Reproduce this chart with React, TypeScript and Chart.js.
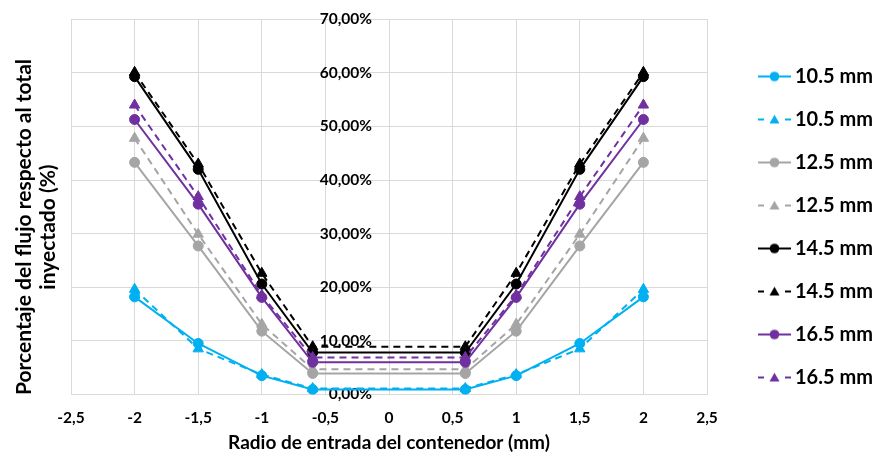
import React, { useEffect, useRef } from 'react';
import { Chart, registerables } from 'chart.js';

Chart.register(...registerables);

// ---- data ----
const xValues = [-2, -1.5, -1, -0.6, 0.6, 1, 1.5, 2];
const xTickLabels = ['-2,5', '-2', '-1,5', '-1', '-0,5', '0', '0,5', '1', '1,5', '2', '2,5'];
const yTickLabels = ['0,00%', '10,00%', '20,00%', '30,00%', '40,00%', '50,00%', '60,00%', '70,00%'];
const seriesLabels = ['10.5 mm', '10.5 mm', '12.5 mm', '12.5 mm', '14.5 mm', '14.5 mm', '16.5 mm', '16.5 mm'];

const s105Solid = [18.2, 9.5, 3.5, 0.9, 0.9, 3.5, 9.5, 18.2];
const s105Dash = [19.6, 8.5, 3.7, 1.1, 1.1, 3.7, 8.5, 19.6];
const s125Solid = [43.3, 27.7, 11.8, 3.9, 3.9, 11.8, 27.7, 43.3];
const s125Dash = [47.8, 29.9, 13.1, 4.7, 4.7, 13.1, 29.9, 47.8];
const s145Solid = [59.3, 42.0, 20.6, 7.8, 7.8, 20.6, 42.0, 59.3];
const s145Dash = [60.1, 43.0, 22.6, 8.9, 8.9, 22.6, 43.0, 60.1];
const s165Solid = [51.3, 35.5, 18.1, 6.0, 6.0, 18.1, 35.5, 51.3];
const s165Dash = [54.0, 36.9, 18.5, 6.9, 6.9, 18.5, 36.9, 54.0];

const seriesValues = [s105Solid, s105Dash, s125Solid, s125Dash, s145Solid, s145Dash, s165Solid, s165Dash];

const xTitle = 'Radio de entrada del contenedor (mm)';
const yTitle = ['Porcentaje del flujo respecto al total', 'inyectado (%)'];

// ---- styles ----
const BLUE = '#00B0F0';
const GRAY = '#A5A5A5';
const BLACK = '#000000';
const PURPLE = '#7030A0';
const seriesColors = [BLUE, BLUE, GRAY, GRAY, BLACK, BLACK, PURPLE, PURPLE];
const seriesDashed = [false, true, false, true, false, true, false, true];
const seriesMarkers = ['circle', 'triangle', 'circle', 'triangle', 'circle', 'triangle', 'circle', 'triangle'];

const FAMILY = 'Lato';
const GRID = '#D9D9D9';
const LEG_FS = 20;
const LEG_PAD = 23;
const LEG_BOX = 55;
const PLOT_RIGHT = 707;
const ICON_END = 791;
const ICON_W = Math.round(2 * (ICON_END - (PLOT_RIGHT + LEG_PAD + LEG_BOX / 2)));

function makeIcon(color: string, dashed: boolean, marker: string) {
  const H = 14;
  const c = document.createElement('canvas');
  c.width = ICON_W;
  c.height = H;
  const g = c.getContext('2d')!;
  const x0 = ICON_W - 33;
  const x1 = ICON_W;
  const cy = H / 2;
  const cx = (x0 + x1) / 2;
  g.strokeStyle = color;
  g.fillStyle = color;
  g.lineWidth = 2;
  const seg = (a: number, b: number) => {
    g.beginPath();
    g.moveTo(a, cy);
    g.lineTo(b, cy);
    g.stroke();
  };
  if (dashed) {
    seg(x0, x0 + 6);
    seg(x1 - 6, x1);
  } else {
    seg(x0, x1);
  }
  g.beginPath();
  if (marker === 'circle') {
    g.arc(cx, cy, 4.8, 0, Math.PI * 2);
  } else {
    g.moveTo(cx, cy - 4.8);
    g.lineTo(cx + 5, cy + 4);
    g.lineTo(cx - 5, cy + 4);
    g.closePath();
  }
  g.fill();
  return c;
}

export default function App() {
  const ref = useRef<HTMLCanvasElement | null>(null);

  useEffect(() => {
    const canvas = ref.current;
    if (!canvas) return;

    const m = document.createElement('canvas').getContext('2d')!;
    m.font = `bold ${LEG_FS}px ${FAMILY}`;
    const textW = Math.max(...seriesLabels.map((l) => m.measureText(l).width));
    const legendW = LEG_PAD + LEG_BOX + LEG_FS / 2 + textW + 10;
    const rightPad = 877 - PLOT_RIGHT - legendW;

    const icons = seriesColors.map((c, i) => makeIcon(c, seriesDashed[i], seriesMarkers[i]));
    const n = seriesValues.length;

    const chart = new Chart(canvas, {
      type: 'line',
      data: {
        datasets: seriesValues.map((vals, i) => ({
          label: seriesLabels[i],
          data: vals.map((v, j) => ({ x: xValues[j], y: v })),
          borderColor: seriesColors[i],
          backgroundColor: seriesColors[i],
          borderWidth: 2,
          borderDash: seriesDashed[i] ? [7, 5] : [],
          pointStyle: seriesMarkers[i] as any,
          pointRadius: seriesMarkers[i] === 'triangle' ? 6 : 5,
          pointBackgroundColor: seriesColors[i],
          pointBorderColor: seriesColors[i],
          pointBorderWidth: 1,
          tension: 0,
          fill: false,
          order: n - 1 - i,
        })),
      },
      options: {
        responsive: false,
        animation: false,
        layout: { padding: { left: 0, top: 0, bottom: 0, right: rightPad } },
        plugins: {
          tooltip: { enabled: false },
          title: { display: false },
          legend: {
            position: 'right',
            align: 'center',
            maxWidth: 400,
            labels: {
              usePointStyle: true,
              pointStyleWidth: LEG_BOX,
              padding: LEG_PAD,
              color: '#000',
              font: { family: FAMILY, size: LEG_FS, weight: 'bold' },
              generateLabels: (ch: any) =>
                ch.data.datasets.map((ds: any, i: number) => ({
                  text: ds.label,
                  fillStyle: seriesColors[i],
                  strokeStyle: seriesColors[i],
                  lineWidth: 0,
                  pointStyle: icons[i],
                  hidden: false,
                  datasetIndex: i,
                  fontColor: '#000',
                })),
            },
          },
        },
        scales: {
          x: {
            type: 'linear',
            position: 'bottom',
            min: -2.5,
            max: 2.5,
            ticks: {
              stepSize: 0.5,
              autoSkip: false,
              maxRotation: 0,
              padding: 14,
              color: '#000',
              font: { family: FAMILY, size: 15.5, weight: 'bold' },
              callback: (_v: any, i: number) => xTickLabels[i],
            },
            grid: { color: GRID, drawTicks: false },
            border: { color: GRID },
            title: {
              display: true,
              text: xTitle,
              color: '#000',
              font: { family: FAMILY, size: 19, weight: 'bold', lineHeight: 1.2 },
              padding: { top: -9.4, bottom: -0.4 },
            },
          },
          y: {
            type: 'linear',
            position: { x: -0.134 } as any,
            min: 0,
            max: 70,
            ticks: {
              stepSize: 10,
              autoSkip: false,
              padding: 10,
              color: '#000',
              font: { family: FAMILY, size: 15.5, weight: 'bold' },
              callback: (_v: any, i: number) => yTickLabels[i],
            },
            grid: { color: GRID, drawTicks: false },
            border: { display: false },
          },
          yTitle: {
            type: 'linear',
            position: 'left',
            fullSize: true,
            min: 0,
            max: 1,
            ticks: { display: false },
            grid: { display: false, drawTicks: false },
            border: { display: false },
            title: {
              display: true,
              text: yTitle,
              color: '#000',
              font: { family: FAMILY, size: 21, weight: 'bold', lineHeight: 24 / 21 },
              padding: { top: 12, bottom: 11 },
            },
          } as any,
        },
      } as any,
    });

    return () => chart.destroy();
  }, []);

  return (
    <div style={{ position: 'fixed', left: 0, top: 0, width: 877, height: 454, background: '#fff' }}>
      <canvas ref={ref} width={877} height={454} style={{ display: 'block' }} />
    </div>
  );
}
